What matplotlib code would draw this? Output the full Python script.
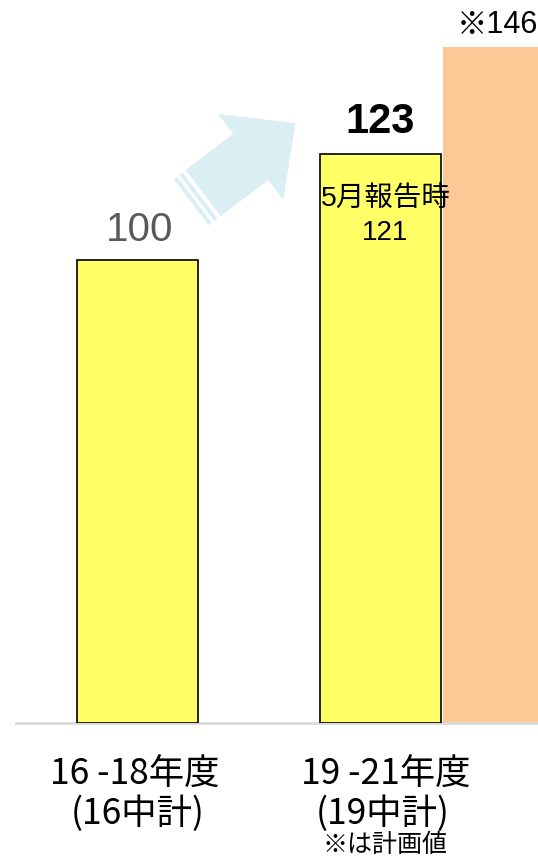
import numpy as np
import matplotlib.pyplot as plt
from matplotlib.patches import Polygon

plt.rcParams['font.family'] = ['Liberation Sans', 'Noto Sans CJK JP']

cat_line1 = ['16 -18年度', '19 -21年度']
cat_line2 = ['(16中計)', '(19中計)']
values = [100, 123]
plan_value = 146
may_value = 121
may_label = '5月報告時'
plan_note = '※は計画値'

W, H, DPI = 538, 859, 100
fig = plt.figure(figsize=(W / DPI, H / DPI), dpi=DPI)
base = 723
ax = fig.add_axes([16 / W, (H - base) / H, 1 - 16 / W, base / H])
ax.set_xlim(-0.5, 1.648)
ax.set_ylim(0, 156.2)
for s in ['top', 'right', 'left']:
    ax.spines[s].set_visible(False)
ax.spines['bottom'].set_color('#d9d9d9')
ax.spines['bottom'].set_linewidth(2)
ax.set_yticks([])
ax.set_xticks([])

x = np.arange(len(values))
bw = 0.498
ax.bar(x, values, width=bw, color='#ffff66', edgecolor='black', linewidth=1.2, zorder=3)
plan_x = x[1] + bw + 0.008
ax.bar(plan_x, plan_value, width=bw, color='#fcc896', linewidth=0, zorder=2)

# value labels
ax.text(x[0] + 0.01, values[0] + 2.5, str(values[0]), ha='center', va='bottom',
        fontsize=29, color='#595959')
ax.text(x[1], values[1] + 2.5, str(values[1]), ha='center', va='bottom',
        fontsize=30, fontweight='bold', color='black')
ax.text(x[1] + 0.02, 113, may_label, ha='center', va='center',
        fontsize=20.5, color='black', zorder=4)
ax.text(x[1] + 0.02, 105.8, str(may_value), ha='center', va='center',
        fontsize=20, color='black', zorder=4)
ax.text(plan_x - 0.025, plan_value + 1.5, '※' + str(plan_value), ha='center', va='bottom',
        fontsize=22, color='black', clip_on=False)

# category labels
for xi, l1, l2 in zip(x, cat_line1, cat_line2):
    ax.text(xi - 0.01 + 0.03 * xi, -11.2, l1, ha='center', va='center', fontsize=25.5,
            family=['Noto Sans CJK JP'], clip_on=False)
    ax.text(xi + 0.01 * xi, -19.6, l2, ha='center', va='center', fontsize=25.5,
            family=['Noto Sans CJK JP'], clip_on=False)
ax.text(x[1] + 0.02, -26.4, plan_note, ha='center', va='center', fontsize=18,
        family=['Noto Sans CJK JP'], clip_on=False)

# growth arrow (decorative), built in display space
fig.canvas.draw()
tail = ax.transData.transform((x[0] + 0.27, 114.5))
tip = ax.transData.transform((x[1] - 0.35, 129.6))
d = tip - tail
L = np.hypot(*d)
u = d / L
p = np.array([-u[1], u[0]])
shaft_w, head_w, head_l = 58, 108, 56
hb = tip - u * head_l
pts = [tail + p * shaft_w / 2, hb + p * shaft_w / 2, hb + p * head_w / 2, tip,
       hb - p * head_w / 2, hb - p * shaft_w / 2, tail - p * shaft_w / 2]
arrow_col = '#dbeef4'
fig.patches.append(Polygon(pts, closed=True, transform=None, facecolor=arrow_col,
                           edgecolor='none', zorder=5))
for off, w in [(4, 4), (11, 4)]:
    a = tail - u * off
    b = a - u * w
    fig.patches.append(Polygon([a + p * shaft_w / 2, a - p * shaft_w / 2,
                                b - p * shaft_w / 2, b + p * shaft_w / 2],
                               closed=True, transform=None, facecolor=arrow_col,
                               edgecolor='none', zorder=5))

fig.savefig('out.png', dpi=DPI)
